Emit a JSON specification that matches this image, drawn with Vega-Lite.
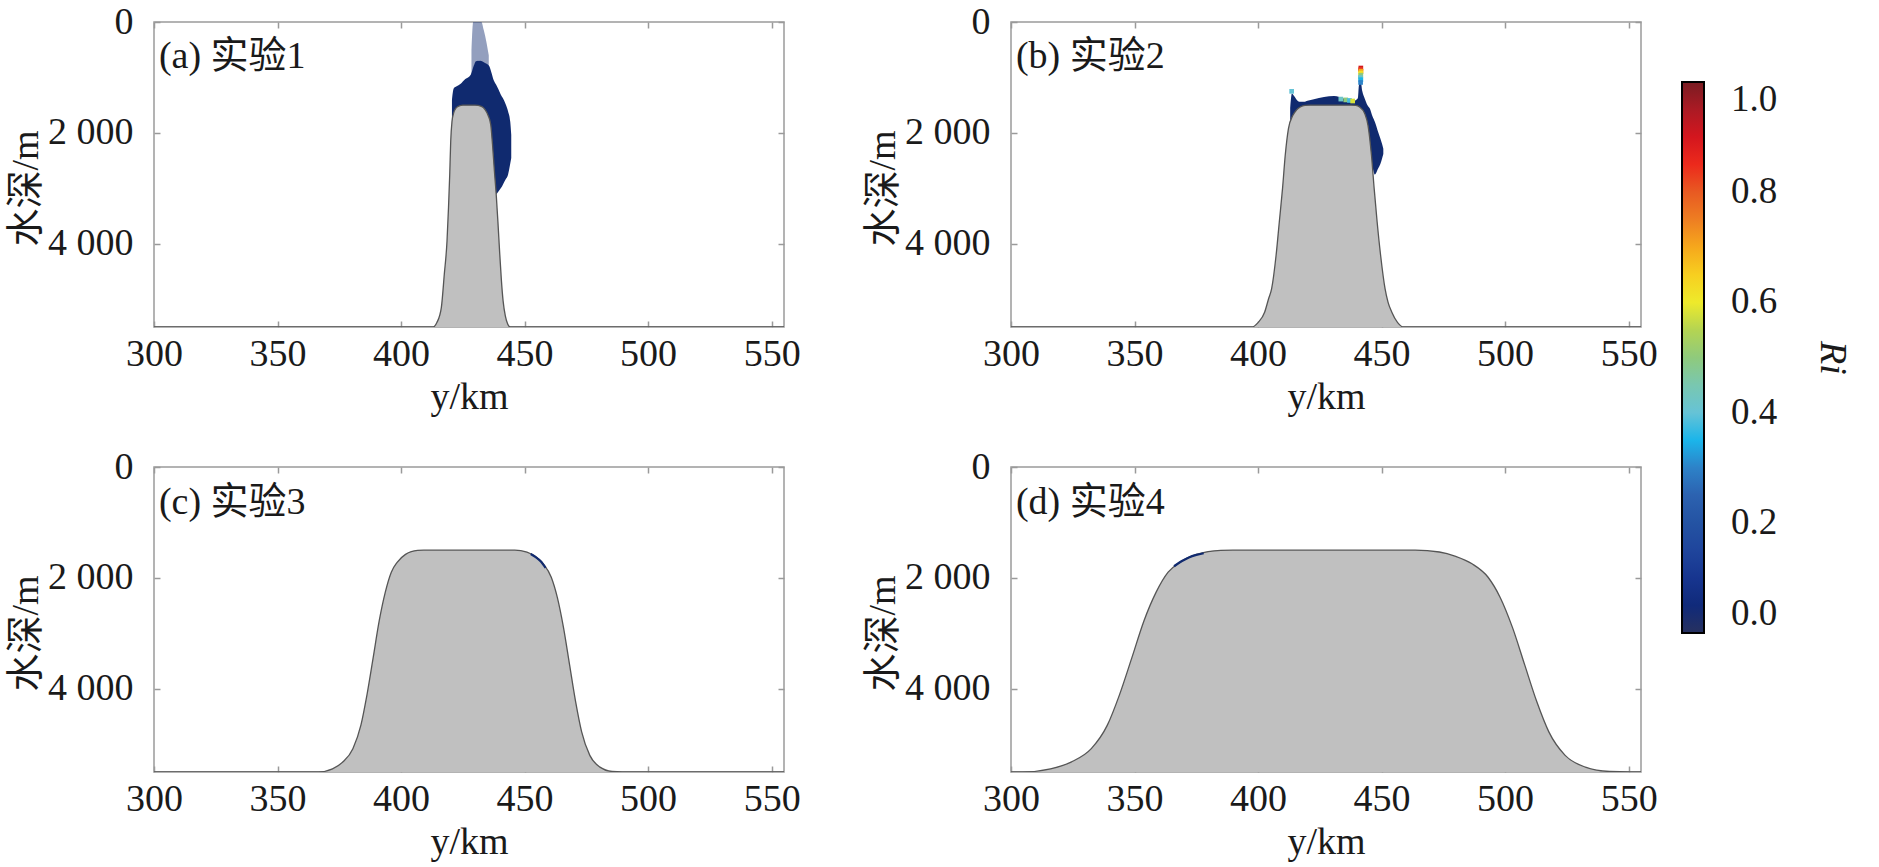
{
  "$schema": "https://vega.github.io/schema/vega-lite/v6.json",
  "padding": {"left": 6, "top": 2, "right": 24, "bottom": 0},
  "background": "white",
  "columns": 2,
  "spacing": {"row": 140, "column": 227},
  "bounds": "flush",
  "config": {
    "font": "Liberation Serif, Noto Sans CJK SC",
    "view": {"stroke": "#9a9a9a", "strokeWidth": 1.5},
    "axis": {
      "domain": false, "grid": false,
      "tickColor": "#9a9a9a", "tickWidth": 1.5, "tickSize": -6,
      "labelFont": "Liberation Serif, Noto Sans CJK SC", "labelFontSize": 38, "labelColor": "#1a1a1a",
      "titleFont": "Liberation Serif, Noto Sans CJK SC", "titleFontSize": 38, "titleFontWeight": "normal", "titleColor": "#1a1a1a",
      "labelFlush": false, "labelOverlap": false, "labelBound": false
    },
    "text": {"font": "Liberation Serif, Noto Sans CJK SC", "fontSize": 38, "color": "#1a1a1a"}
  },
  "datasets": {
    "prof_a": [
      {"km": 300, "depth": 5500}, {"km": 413, "depth": 5500}, {"km": 414.5, "depth": 5420}, {"km": 416.3, "depth": 5150},
      {"km": 417.5, "depth": 4550}, {"km": 418.6, "depth": 3950}, {"km": 419.2, "depth": 3350}, {"km": 419.7, "depth": 2750},
      {"km": 420.1, "depth": 2150}, {"km": 420.6, "depth": 1800}, {"km": 421.3, "depth": 1640}, {"km": 422.3, "depth": 1550},
      {"km": 423.8, "depth": 1510}, {"km": 425, "depth": 1500}, {"km": 430, "depth": 1500}, {"km": 432.5, "depth": 1520},
      {"km": 434, "depth": 1580}, {"km": 435.2, "depth": 1680}, {"km": 436.3, "depth": 1850}, {"km": 437, "depth": 2200},
      {"km": 437.8, "depth": 2700}, {"km": 438.5, "depth": 3100}, {"km": 439.2, "depth": 3600}, {"km": 439.9, "depth": 4150},
      {"km": 440.6, "depth": 4650}, {"km": 441.3, "depth": 5030}, {"km": 442.2, "depth": 5300}, {"km": 443.2, "depth": 5450},
      {"km": 444.2, "depth": 5500}, {"km": 555, "depth": 5500}
    ],
    "blob_a": [
      {"km": 420.6, "top": 1400, "bottom": 1800}, {"km": 421.3, "top": 1200, "bottom": 1700}, {"km": 422.5, "top": 1160, "bottom": 1600},
      {"km": 424, "top": 1120, "bottom": 1550}, {"km": 426, "top": 1030, "bottom": 1550}, {"km": 428.2, "top": 950, "bottom": 1550},
      {"km": 429.5, "top": 780, "bottom": 1550}, {"km": 430.3, "top": 708, "bottom": 1550}, {"km": 432, "top": 700, "bottom": 1550},
      {"km": 434, "top": 740, "bottom": 1600}, {"km": 435.6, "top": 790, "bottom": 1800}, {"km": 436.5, "top": 900, "bottom": 3000},
      {"km": 437.5, "top": 1050, "bottom": 3080}, {"km": 438.5, "top": 1130, "bottom": 3100}, {"km": 439.5, "top": 1220, "bottom": 3050},
      {"km": 440.5, "top": 1320, "bottom": 2990}, {"km": 441.2, "top": 1371, "bottom": 2933}, {"km": 442.3, "top": 1480, "bottom": 2840},
      {"km": 443.3, "top": 1611, "bottom": 2753}, {"km": 444.2, "top": 1800, "bottom": 2550}, {"km": 444.6, "top": 2032, "bottom": 2452}
    ],
    "plume_a": [
      {"km": 428.5, "top": 500, "bottom": 960}, {"km": 429.2, "top": 0, "bottom": 850}, {"km": 430.3, "top": 0, "bottom": 720},
      {"km": 431.5, "top": 0, "bottom": 700}, {"km": 432.5, "top": 0, "bottom": 720}, {"km": 433.5, "top": 150, "bottom": 740},
      {"km": 434.5, "top": 350, "bottom": 780}, {"km": 435.5, "top": 600, "bottom": 800}
    ],
    "prof_b": [
      {"km": 300, "depth": 5500}, {"km": 397.5, "depth": 5500}, {"km": 400, "depth": 5420}, {"km": 402.7, "depth": 5229},
      {"km": 404.2, "depth": 5000}, {"km": 405.5, "depth": 4808}, {"km": 407.3, "depth": 4207}, {"km": 408.6, "depth": 3606},
      {"km": 409.9, "depth": 3005}, {"km": 411, "depth": 2404}, {"km": 412.3, "depth": 1923}, {"km": 414.1, "depth": 1683},
      {"km": 415.5, "depth": 1590}, {"km": 417.1, "depth": 1533}, {"km": 419, "depth": 1505}, {"km": 421.2, "depth": 1500},
      {"km": 437.7, "depth": 1500}, {"km": 439.5, "depth": 1505}, {"km": 441.1, "depth": 1533}, {"km": 443.2, "depth": 1653},
      {"km": 444.5, "depth": 1863}, {"km": 445.9, "depth": 2404}, {"km": 447, "depth": 3005}, {"km": 448.2, "depth": 3606},
      {"km": 449.6, "depth": 4207}, {"km": 451.4, "depth": 4808}, {"km": 452.6, "depth": 5050}, {"km": 454.1, "depth": 5229},
      {"km": 456.5, "depth": 5420}, {"km": 458.9, "depth": 5500}, {"km": 555, "depth": 5500}
    ],
    "blob_b": [
      {"km": 413, "top": 1550, "bottom": 1950}, {"km": 413.7, "top": 1290, "bottom": 1900}, {"km": 414.5, "top": 1330, "bottom": 1750},
      {"km": 415.8, "top": 1410, "bottom": 1620}, {"km": 417, "top": 1440, "bottom": 1560}, {"km": 418.5, "top": 1440, "bottom": 1530},
      {"km": 420, "top": 1420, "bottom": 1520}, {"km": 422.6, "top": 1395, "bottom": 1520}, {"km": 426.7, "top": 1352, "bottom": 1520},
      {"km": 430.8, "top": 1334, "bottom": 1520}, {"km": 434.9, "top": 1382, "bottom": 1520}, {"km": 437, "top": 1420, "bottom": 1520},
      {"km": 438.4, "top": 1430, "bottom": 1530}, {"km": 439.5, "top": 1410, "bottom": 1550}, {"km": 440.4, "top": 1370, "bottom": 1600},
      {"km": 440.8, "top": 1150, "bottom": 1600}, {"km": 441.5, "top": 1050, "bottom": 1620}, {"km": 442.2, "top": 1250, "bottom": 1650},
      {"km": 443.2, "top": 1382, "bottom": 1700}, {"km": 444.3, "top": 1500, "bottom": 1900}, {"km": 445.3, "top": 1563, "bottom": 2300},
      {"km": 446.3, "top": 1700, "bottom": 2600}, {"km": 447.3, "top": 1803, "bottom": 2750}, {"km": 448.6, "top": 1983, "bottom": 2644},
      {"km": 449.5, "top": 2100, "bottom": 2560}, {"km": 450.2, "top": 2200, "bottom": 2460}, {"km": 450.7, "top": 2284, "bottom": 2380}
    ],
    "spots_b": [
      {"km": 441.6, "depth": 830, "ri": 0.9}, {"km": 441.5, "depth": 860, "ri": 0.82}, {"km": 441.7, "depth": 890, "ri": 0.7},
      {"km": 441.5, "depth": 920, "ri": 0.62}, {"km": 441.6, "depth": 960, "ri": 0.5}, {"km": 441.4, "depth": 1000, "ri": 0.42},
      {"km": 441.6, "depth": 1040, "ri": 0.35}, {"km": 441.5, "depth": 1090, "ri": 0.3}, {"km": 433.5, "depth": 1390, "ri": 0.42},
      {"km": 435.5, "depth": 1405, "ri": 0.5}, {"km": 437, "depth": 1415, "ri": 0.38}, {"km": 438.3, "depth": 1425, "ri": 0.58},
      {"km": 413.6, "depth": 1250, "ri": 0.4}
    ],
    "prof_c": [
      {"km": 300, "depth": 5500}, {"km": 366.55, "depth": 5500}, {"km": 372.25, "depth": 5442}, {"km": 376.4, "depth": 5321},
      {"km": 380.5, "depth": 5079}, {"km": 383.75, "depth": 4655}, {"km": 386.2, "depth": 4109}, {"km": 388.7, "depth": 3442},
      {"km": 391.15, "depth": 2776}, {"km": 393.6, "depth": 2261}, {"km": 396.05, "depth": 1897}, {"km": 398.5, "depth": 1715},
      {"km": 401.8, "depth": 1576}, {"km": 406.7, "depth": 1503}, {"km": 409.15, "depth": 1500}, {"km": 446.05, "depth": 1500},
      {"km": 450.95, "depth": 1533}, {"km": 454.25, "depth": 1612}, {"km": 457.55, "depth": 1745}, {"km": 460.8, "depth": 1988},
      {"km": 463.25, "depth": 2352}, {"km": 465.75, "depth": 2897}, {"km": 468.2, "depth": 3564}, {"km": 470.65, "depth": 4230},
      {"km": 473.1, "depth": 4776}, {"km": 476.4, "depth": 5200}, {"km": 480.5, "depth": 5412}, {"km": 485.4, "depth": 5491},
      {"km": 489.5, "depth": 5500}, {"km": 555, "depth": 5500}
    ],
    "edge_c": [
      {"km": 452.5, "depth": 1570}, {"km": 454.5, "depth": 1625}, {"km": 456.5, "depth": 1700}, {"km": 458.5, "depth": 1820}
    ],
    "prof_d": [
      {"km": 300, "depth": 5500}, {"km": 304.6, "depth": 5500}, {"km": 316, "depth": 5442}, {"km": 324.3, "depth": 5321},
      {"km": 332.5, "depth": 5079}, {"km": 339, "depth": 4655}, {"km": 343.9, "depth": 4109}, {"km": 348.9, "depth": 3442},
      {"km": 353.8, "depth": 2776}, {"km": 358.7, "depth": 2261}, {"km": 363.6, "depth": 1897}, {"km": 368.5, "depth": 1715},
      {"km": 375.1, "depth": 1576}, {"km": 384.9, "depth": 1503}, {"km": 389.8, "depth": 1500}, {"km": 463.6, "depth": 1500},
      {"km": 473.4, "depth": 1533}, {"km": 480, "depth": 1612}, {"km": 486.6, "depth": 1745}, {"km": 493.1, "depth": 1988},
      {"km": 498, "depth": 2352}, {"km": 503, "depth": 2897}, {"km": 507.9, "depth": 3564}, {"km": 512.8, "depth": 4230},
      {"km": 517.7, "depth": 4776}, {"km": 524.3, "depth": 5200}, {"km": 532.5, "depth": 5412}, {"km": 542.3, "depth": 5491},
      {"km": 550.5, "depth": 5500}, {"km": 555, "depth": 5500}
    ],
    "edge_d": [
      {"km": 366, "depth": 1790}, {"km": 369, "depth": 1700}, {"km": 372, "depth": 1630}, {"km": 375, "depth": 1585}, {"km": 378, "depth": 1555}
    ]
  },
  "concat": [
    {
      "width": 630, "height": 305,
      "layer": [
        {
          "data": {"name": "blob_a"},
          "mark": {"type": "area", "orient": "vertical", "color": "#102a6f", "opacity": 1, "interpolate": "monotone", "clip": true},
          "encoding": {
            "x": {"field": "km", "type": "quantitative", "scale": {"domain": [300, 555], "nice": false, "zero": false},
                  "axis": {"values": [300, 350, 400, 450, 500, 550], "title": "y/km", "labelPadding": 14, "titlePadding": 5}},
            "y": {"field": "top", "type": "quantitative", "scale": {"domain": [0, 5500], "reverse": true, "nice": false, "zero": false},
                  "axis": {"values": [0, 2000, 4000], "labelExpr": "replace(format(datum.value, ','), ',', ' ')", "title": "水深/m", "labelPadding": 27, "titlePadding": 2, "titleY": 166}},
            "y2": {"field": "bottom"}
          }
        },
        {
          "data": {"name": "plume_a"},
          "mark": {"type": "area", "orient": "vertical", "color": "#102a6f", "opacity": 0.45, "interpolate": "monotone", "clip": true},
          "encoding": {
            "x": {"field": "km", "type": "quantitative", "axis": null},
            "y": {"field": "top", "type": "quantitative", "axis": null},
            "y2": {"field": "bottom"}
          }
        },
        {
          "data": {"name": "prof_a"},
          "mark": {"type": "area", "orient": "vertical", "color": "#c0c0c0", "opacity": 1, "interpolate": "monotone", "clip": true, "line": {"color": "#555555", "strokeWidth": 1.3}},
          "encoding": {
            "x": {"field": "km", "type": "quantitative", "axis": {"orient": "top", "values": [300, 350, 400, 450, 500, 550], "labels": false, "title": null}},
            "y": {"field": "depth", "type": "quantitative", "axis": {"orient": "right", "values": [0, 2000, 4000], "labels": false, "title": null}},
            "y2": {"datum": 5500}
          }
        },
        {
          "data": {"values": [{"km": 302, "depth": 630, "label": "(a) 实验1"}]},
          "mark": {"type": "text", "align": "left", "baseline": "middle"},
          "encoding": {
            "x": {"field": "km", "type": "quantitative", "axis": null},
            "y": {"field": "depth", "type": "quantitative", "axis": null},
            "text": {"field": "label"}
          }
        }
      ],
      "resolve": {"axis": {"x": "independent", "y": "independent"}}
    },
    {
      "width": 630, "height": 305,
      "layer": [
        {
          "data": {"name": "blob_b"},
          "mark": {"type": "area", "orient": "vertical", "color": "#102a6f", "opacity": 1, "interpolate": "monotone", "clip": true},
          "encoding": {
            "x": {"field": "km", "type": "quantitative", "scale": {"domain": [300, 555], "nice": false, "zero": false},
                  "axis": {"values": [300, 350, 400, 450, 500, 550], "title": "y/km", "labelPadding": 14, "titlePadding": 5}},
            "y": {"field": "top", "type": "quantitative", "scale": {"domain": [0, 5500], "reverse": true, "nice": false, "zero": false},
                  "axis": {"values": [0, 2000, 4000], "labelExpr": "replace(format(datum.value, ','), ',', ' ')", "title": "水深/m", "labelPadding": 27, "titlePadding": 2, "titleY": 166}},
            "y2": {"field": "bottom"}
          }
        },
        {
          "data": {"name": "prof_b"},
          "mark": {"type": "area", "orient": "vertical", "color": "#c0c0c0", "opacity": 1, "interpolate": "monotone", "clip": true, "line": {"color": "#555555", "strokeWidth": 1.3}},
          "encoding": {
            "x": {"field": "km", "type": "quantitative", "axis": {"orient": "top", "values": [300, 350, 400, 450, 500, 550], "labels": false, "title": null}},
            "y": {"field": "depth", "type": "quantitative", "axis": {"orient": "right", "values": [0, 2000, 4000], "labels": false, "title": null}},
            "y2": {"datum": 5500}
          }
        },
        {
          "data": {"name": "spots_b"},
          "mark": {"type": "square", "filled": true, "size": 22, "opacity": 1, "clip": true},
          "encoding": {
            "x": {"field": "km", "type": "quantitative", "axis": null},
            "y": {"field": "depth", "type": "quantitative", "axis": null},
            "color": {
              "field": "ri", "type": "quantitative",
              "scale": {
                "domain": [0, 0.05, 0.1, 0.15, 0.2, 0.25, 0.3, 0.35, 0.4, 0.45, 0.5, 0.55, 0.6, 0.65, 0.7, 0.75, 0.8, 0.85, 0.9, 0.95, 1],
                "range": ["#27315f", "#102a7a", "#17358f", "#1f459c", "#2453a3", "#2c62b0", "#2d82c8", "#1bb5ea", "#66c3d6", "#79c7b0", "#8fca7c", "#b4d452", "#eeea2b", "#f7cf20", "#f6a81c", "#ee7e22", "#e85a22", "#ec2a1c", "#d4161e", "#ab1a24", "#7a1c22"],
                "interpolate": "rgb"
              },
              "legend": {
                "orient": "none", "legendX": 1528, "legendY": 60, "direction": "vertical", "padding": 0,
                "gradientLength": 551, "gradientThickness": 22, "gradientStrokeColor": "#000000", "gradientStrokeWidth": 2,
                "values": [0, 0.2, 0.4, 0.6, 0.8, 1], "format": ".1f",
                "labelFont": "Liberation Serif", "labelFontSize": 37, "labelColor": "#1a1a1a", "labelOffset": 27, "labelBaseline": "middle", "labelOverlap": false,
                "title": "Ri", "titleOrient": "right", "titleAngle": 270, "titleAnchor": "middle", "titleBaseline": "bottom",
                "titleFont": "Liberation Serif", "titleFontSize": 38, "titleFontStyle": "italic", "titleFontWeight": "normal", "titleColor": "#1a1a1a", "titlePadding": 36
              }
            }
          }
        },
        {
          "data": {"values": [{"km": 302, "depth": 630, "label": "(b) 实验2"}]},
          "mark": {"type": "text", "align": "left", "baseline": "middle"},
          "encoding": {
            "x": {"field": "km", "type": "quantitative", "axis": null},
            "y": {"field": "depth", "type": "quantitative", "axis": null},
            "text": {"field": "label"}
          }
        }
      ],
      "resolve": {"axis": {"x": "independent", "y": "independent"}}
    },
    {
      "width": 630, "height": 305,
      "layer": [
        {
          "data": {"name": "prof_c"},
          "mark": {"type": "area", "orient": "vertical", "color": "#c0c0c0", "opacity": 1, "interpolate": "monotone", "clip": true, "line": {"color": "#555555", "strokeWidth": 1.3}},
          "encoding": {
            "x": {"field": "km", "type": "quantitative", "scale": {"domain": [300, 555], "nice": false, "zero": false},
                  "axis": {"values": [300, 350, 400, 450, 500, 550], "title": "y/km", "labelPadding": 14, "titlePadding": 5}},
            "y": {"field": "depth", "type": "quantitative", "scale": {"domain": [0, 5500], "reverse": true, "nice": false, "zero": false},
                  "axis": {"values": [0, 2000, 4000], "labelExpr": "replace(format(datum.value, ','), ',', ' ')", "title": "水深/m", "labelPadding": 27, "titlePadding": 2, "titleY": 166}},
            "y2": {"datum": 5500}
          }
        },
        {
          "data": {"name": "edge_c"},
          "mark": {"type": "line", "color": "#102a6f", "strokeWidth": 2.2, "interpolate": "monotone", "clip": true},
          "encoding": {
            "x": {"field": "km", "type": "quantitative", "axis": {"orient": "top", "values": [300, 350, 400, 450, 500, 550], "labels": false, "title": null}},
            "y": {"field": "depth", "type": "quantitative", "axis": {"orient": "right", "values": [0, 2000, 4000], "labels": false, "title": null}}
          }
        },
        {
          "data": {"values": [{"km": 302, "depth": 650, "label": "(c) 实验3"}]},
          "mark": {"type": "text", "align": "left", "baseline": "middle"},
          "encoding": {
            "x": {"field": "km", "type": "quantitative", "axis": null},
            "y": {"field": "depth", "type": "quantitative", "axis": null},
            "text": {"field": "label"}
          }
        }
      ],
      "resolve": {"axis": {"x": "independent", "y": "independent"}}
    },
    {
      "width": 630, "height": 305,
      "layer": [
        {
          "data": {"name": "prof_d"},
          "mark": {"type": "area", "orient": "vertical", "color": "#c0c0c0", "opacity": 1, "interpolate": "monotone", "clip": true, "line": {"color": "#555555", "strokeWidth": 1.3}},
          "encoding": {
            "x": {"field": "km", "type": "quantitative", "scale": {"domain": [300, 555], "nice": false, "zero": false},
                  "axis": {"values": [300, 350, 400, 450, 500, 550], "title": "y/km", "labelPadding": 14, "titlePadding": 5}},
            "y": {"field": "depth", "type": "quantitative", "scale": {"domain": [0, 5500], "reverse": true, "nice": false, "zero": false},
                  "axis": {"values": [0, 2000, 4000], "labelExpr": "replace(format(datum.value, ','), ',', ' ')", "title": "水深/m", "labelPadding": 27, "titlePadding": 2, "titleY": 166}},
            "y2": {"datum": 5500}
          }
        },
        {
          "data": {"name": "edge_d"},
          "mark": {"type": "line", "color": "#102a6f", "strokeWidth": 2.2, "interpolate": "monotone", "clip": true},
          "encoding": {
            "x": {"field": "km", "type": "quantitative", "axis": {"orient": "top", "values": [300, 350, 400, 450, 500, 550], "labels": false, "title": null}},
            "y": {"field": "depth", "type": "quantitative", "axis": {"orient": "right", "values": [0, 2000, 4000], "labels": false, "title": null}}
          }
        },
        {
          "data": {"values": [{"km": 302, "depth": 650, "label": "(d) 实验4"}]},
          "mark": {"type": "text", "align": "left", "baseline": "middle"},
          "encoding": {
            "x": {"field": "km", "type": "quantitative", "axis": null},
            "y": {"field": "depth", "type": "quantitative", "axis": null},
            "text": {"field": "label"}
          }
        }
      ],
      "resolve": {"axis": {"x": "independent", "y": "independent"}}
    }
  ]
}
